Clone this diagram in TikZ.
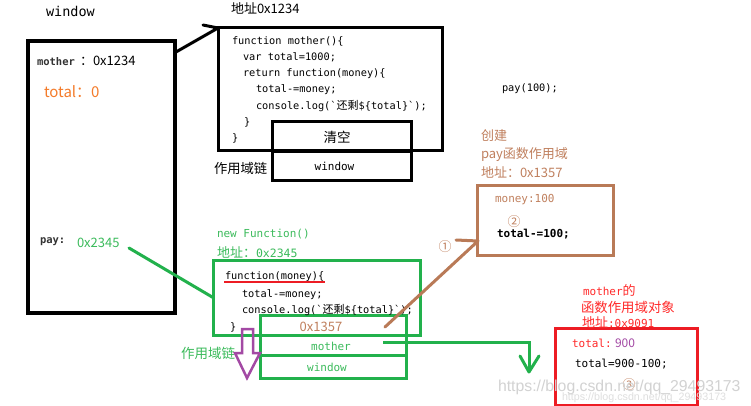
\documentclass[tikz,border=0pt]{standalone}
\usepackage{fontspec}
\setmainfont{Noto Sans CJK SC}
\setmonofont{DejaVu Sans Mono}
\newfontfamily\cjk{Noto Sans CJK SC}
\newfontfamily\wmfont{Liberation Sans}
\definecolor{pgreen}{HTML}{22B14C}
\definecolor{tgreen}{HTML}{3CBB5C}
\definecolor{pbrown}{HTML}{B97A57}
\definecolor{tbrown}{HTML}{C0805E}
\definecolor{pred}{HTML}{ED1C24}
\definecolor{tred}{HTML}{FF2A2A}
\definecolor{ppurple}{HTML}{A349A4}
\definecolor{torange}{HTML}{F47B2A}
\tikzset{
  lbl/.style={inner sep=0pt, outer sep=0pt},
  lw/.style={lbl, anchor=west},
  lb/.style={lbl, anchor=base west},
  codef/.style={font=\ttfamily\fontsize{10.3}{12}\selectfont},
  monof/.style={font=\ttfamily\fontsize{11}{13}\selectfont},
  cjkf/.style={font=\fontsize{13}{15}\selectfont},
  frame/.style={draw, line width=3pt, inner sep=0pt, outer sep=0pt},
  conn/.style={line width=3pt, line cap=round, line join=round},
}
\newcommand{\hz}{{\cjk\fontsize{11}{12}\selectfont 还剩}}
\begin{document}
\begin{tikzpicture}[x=1pt,y=-1pt]
\fill[white] (0,0) rectangle (751,406);
\useasboundingbox (0,0) rectangle (751,406);

% ---------- boxes ----------
\node[frame, line width=3.5pt, minimum width=147pt, minimum height=272pt] (win) at (101.5,177) {};
\node[frame, minimum width=224pt, minimum height=123pt] (mf) at (330,89.5) {};
\node[frame, minimum width=139pt, minimum height=30pt] (clr) at (341.5,137) {};
\node[frame, minimum width=139pt, minimum height=28pt] (wrow) at (341.5,166) {};
\node[frame, draw=pbrown, minimum width=136pt, minimum height=70pt] (pb) at (545,220) {};
\node[frame, draw=pgreen, minimum width=207pt, minimum height=75pt] (fn) at (316.5,297.5) {};
\node[frame, draw=pgreen, minimum width=146pt, minimum height=20pt] (s1) at (333,325) {};
\node[frame, draw=pgreen, minimum width=146pt, minimum height=20pt] (s2) at (333,345) {};
\node[frame, draw=pgreen, minimum width=146pt, minimum height=23pt] (s3) at (333,366.5) {};
\node[frame, draw=pred, minimum width=142pt, minimum height=77pt] (rb) at (626,366.5) {};

% ---------- window column ----------
\node[lw, font=\ttfamily\fontsize{13.5}{15}\selectfont] (twin) at (46,11) {window};
\node[lw, font=\ttfamily\bfseries\fontsize{10.5}{13}\selectfont, text=black!80] (tmo) at (37,62) {mother};
\node[lw, font=\fontsize{13}{15}\selectfont] (tmoa) at (80,61) {：0x1234};
\node[lw, text=torange, font=\fontsize{15}{17}\selectfont] (ttot) at (44,92) {total：0};
\node[lw, font=\ttfamily\bfseries\fontsize{10.5}{13}\selectfont, text=black!80] (tpay) at (40,242) {pay:};
\node[lw, text=tgreen, font=\fontsize{13}{15}\selectfont] (tpaya) at (77,243) {0x2345};

% ---------- mother function ----------
\node[lw, font=\fontsize{13}{15}\selectfont] (tadr1) at (231,8) {地址0x1234};
\node[lb, codef] (c1) at (232,45) {function mother()\{};
\node[lb, codef] (c2) at (243,61) {var total=1000;};
\node[lb, codef] (c3) at (243,77) {return function(money)\{};
\node[lb, codef] (c4) at (256,93) {total-=money;};
\node[lb, codef] (c5) at (256,110) {console.log(`\hz\$\{total\}`);};
\node[lb, codef] (c6) at (244,126) {\}};
\node[lb, codef] (c7) at (232,142) {\}};
\node[lbl, font=\fontsize{13.5}{15}\selectfont] (tclr) at (337,137) {清空};
\node[lbl, monof] (twr) at (334.5,166) {window};
\node[lw, font=\fontsize{13.3}{15}\selectfont] (tchain1) at (214,168) {作用域链};

\node[lw, codef] (tcall) at (502,89) {pay(100);};

% ---------- pay scope ----------
\node[lw, text=tbrown, cjkf] (tb1) at (481,136) {创建};
\node[lw, text=tbrown, cjkf] (tb2) at (481,155) {pay函数作用域};
\node[lw, text=tbrown, cjkf] (tb3) at (481,172) {地址：0x1357};
\node[lw, monof, text=tbrown] (tmoney) at (495,200) {money:100};
\node[lbl, text=tbrown, cjkf] (n2) at (514,222) {②};
\node[lw, font=\ttfamily\bfseries\fontsize{11}{13}\selectfont] (tsub) at (497,234) {total-=100;};
\node[lbl, text=tbrown, cjkf] (n1) at (445,247) {①};

% ---------- inner function ----------
\node[lw, monof, text=tgreen] (tnew) at (217,234) {new Function()};
\node[lw, text=tgreen] (tadr2) at (217,252) {{\fontsize{13}{15}\selectfont 地址：}{\ttfamily\fontsize{11.5}{13}\selectfont 0x2345}};
\node[lb, codef] (d1) at (225,279) {function(money)\{};
\node[lb, codef] (d2) at (242,297) {total-=money;};
\node[lb, codef] (d3) at (242,313) {console.log(`\hz\$\{total\}`);};
\node[lb, codef] (d4) at (230,330) {\}};
\draw[pred, line width=2pt] (d1.base west) ++(-1,3) coordinate (ul1) -- ++(101,0) coordinate (ul2);
\node[lbl, text=tbrown, font=\fontsize{13}{15}\selectfont] (ts1) at (321,327) {0x1357};
\node[lbl, monof, text=tgreen] (ts2) at (331,346) {mother};
\node[lbl, monof, text=tgreen] (ts3) at (327,367) {window};
\node[lw, text=tgreen, font=\fontsize{13.5}{15}\selectfont] (tchain2) at (181,353) {作用域链};

% ---------- mother scope object ----------
\node[lw, text=tred] (tr1) at (583,290) {{\ttfamily\fontsize{11}{13}\selectfont mother}{\fontsize{13}{15}\selectfont 的}};
\node[lw, text=tred, font=\fontsize{13.4}{15}\selectfont] (tr2) at (581,307) {函数作用域对象};
\node[lw, text=tred] (tr3) at (582,322) {{\fontsize{13}{15}\selectfont 地址}{\ttfamily\fontsize{11}{13}\selectfont :0x9091}};
\node[lw, monof, text=tred] (trt) at (572,343) {total:};
\node[lw, text=ppurple, font=\fontsize{12}{14}\selectfont] (t900) at (615,343) {900};
\node[lw, monof] (tcalc) at (575,364) {total=900-100;};
\node[lbl, text=tbrown, cjkf] (n3) at (629,385) {③};

% ---------- connectors ----------
\coordinate (winhook) at (176,52);
\draw[conn] (winhook) -- (mf.north west) -- ++(-15,-3);
\coordinate (paytail) at (129,248);
\draw[conn, pgreen] (paytail) -- (fn.west);
\coordinate (btail) at (385,327);
\coordinate (bhead) at (478,241);
\draw[conn, pbrown] (btail) -- (bhead) -- ++(-22,-1);
\coordinate (mtail) at (383,342);
\coordinate (gtip) at (529,372);
\draw[line width=3pt, pgreen] (mtail) -| (gtip);
\draw[conn, pgreen] (gtip) ++(-9,-16) -- (gtip) -- ++(10,-16);
\draw[ppurple, line width=2.5pt] (242,329) -- (253,329) -- (253,353) -- (260,353) -- (247,378) -- (235,353) -- (242,353) -- cycle;

% ---------- watermark ----------
\node[lw, text=gray!35, font=\wmfont\fontsize{15.8}{18}\selectfont] (wm1) at (498,387) {https://blog.csdn.net/qq\_29493173};
\node[lw, text=gray!25, font=\wmfont\fontsize{10.7}{12}\selectfont] (wm2) at (562,398) {https://blog.csdn.net/qq\_29493173};
\end{tikzpicture}
\end{document}
